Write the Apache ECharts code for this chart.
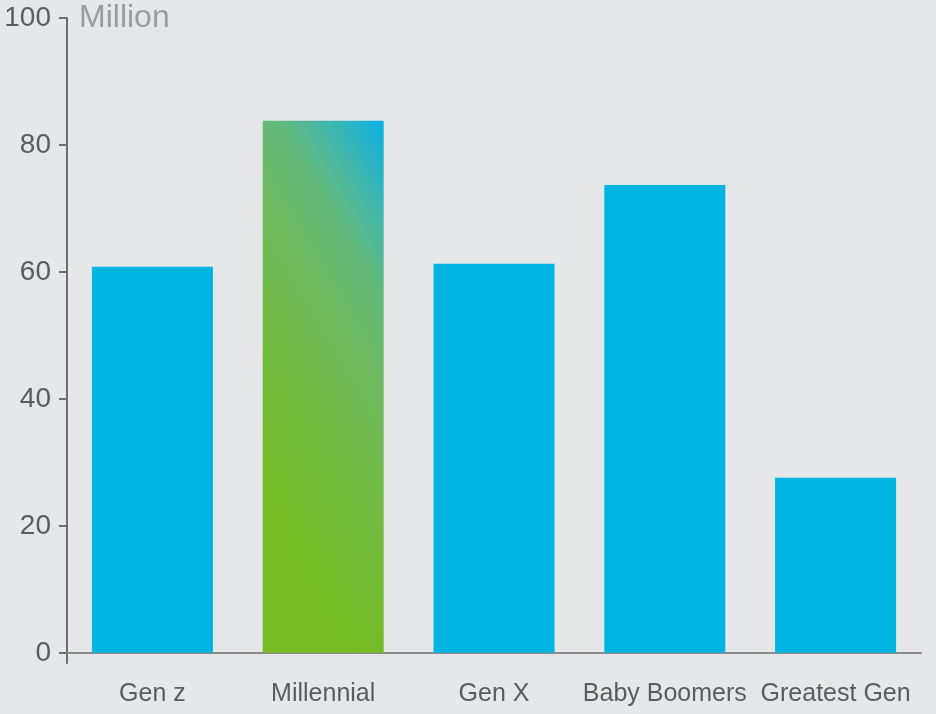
<!DOCTYPE html>
<html>
<head>
<meta charset="utf-8">
<script src="https://cdn.jsdelivr.net/npm/echarts@6/dist/echarts.min.js"></script>
<style>
html,body{margin:0;padding:0;background:#e6e7e9;}
#chart{width:936px;height:714px;}
</style>
</head>
<body>
<div id="chart"></div>
<script>
const categories = ['Gen z', 'Millennial', 'Gen X', 'Baby Boomers', 'Greatest Gen'];
const values = [60.8, 83.8, 61.3, 73.7, 27.6];
const highlightIndex = 1;
const yTicks = [0, 20, 40, 60, 80, 100];

const FONT = "'Liberation Sans', Arial, Helvetica, sans-serif";
const chart = echarts.init(document.getElementById('chart'));

const millennialGradient = new echarts.graphic.LinearGradient(-1.124, 0.29, 1, 0, [
  { offset: 0, color: '#76bc22' },
  { offset: 0.35, color: '#74bc48' },
  { offset: 0.55, color: '#6fbb64' },
  { offset: 0.7, color: '#62ba7c' },
  { offset: 0.82, color: '#45b7a8' },
  { offset: 1, color: '#0ab0e6' }
]);

chart.setOption({
  backgroundColor: '#e6e7e9',
  animation: false,
  grid: { left: 67, right: 15, top: 18, bottom: 51, containLabel: false },
  xAxis: {
    type: 'category',
    data: categories,
    axisLine: { show: true, onZero: true, lineStyle: { color: '#8a8a8a', width: 2 } },
    axisTick: { show: false },
    axisLabel: { fontSize: 25, color: '#5c5c5c', margin: 19, fontFamily: FONT, interval: 0 }
  },
  yAxis: {
    type: 'value',
    min: -1.6,
    max: yTicks[yTicks.length - 1],
    name: 'Million',
    nameLocation: 'end',
    nameGap: 0,
    nameTextStyle: {
      fontSize: 32, color: '#9c9c9c', align: 'left', verticalAlign: 'middle',
      padding: [0, 0, 0, 12], fontFamily: FONT
    },
    axisLine: { show: true, lineStyle: { color: '#6e6e6e', width: 2 } },
    axisTick: { show: true, inside: false, length: 8, customValues: yTicks, lineStyle: { color: '#6e6e6e', width: 2 } },
    axisLabel: { fontSize: 28, color: '#5c5c5c', margin: 16, fontFamily: FONT, customValues: yTicks },
    splitLine: { show: false }
  },
  series: [{
    type: 'bar',
    barWidth: 121,
    data: values.map((v, i) => ({
      value: v,
      itemStyle: { color: i === highlightIndex ? millennialGradient : '#00b5e2' }
    }))
  }]
});
</script>
</body>
</html>
